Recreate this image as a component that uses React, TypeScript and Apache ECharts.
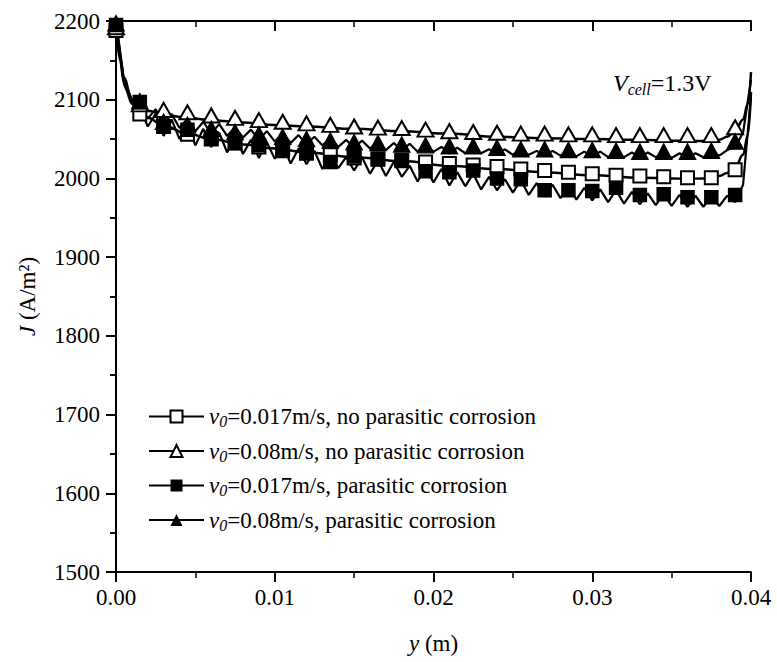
import { useEffect, useRef } from "react";
import * as echarts from "echarts";

// Current density J (A/m²) along the channel height y (m) at V_cell = 1.3 V.

const FONT = "Liberation Serif";

const xTickMin = 0;
const xTickMax = 0.04;
const xTickStep = 0.01;
const yTickMin = 1500;
const yTickMax = 2200;
const yTickStep = 100;

// Smooth model curves (no parasitic corrosion)
const smoothX = [
  0, 0.00025, 0.0005, 0.001, 0.0015, 0.002, 0.003, 0.0045, 0.006, 0.008, 0.01, 0.012, 0.015,
  0.018, 0.021, 0.024, 0.027, 0.03, 0.033, 0.035, 0.036, 0.037, 0.038, 0.0385, 0.039, 0.0395,
  0.0398, 0.04,
];
const lineSlowNoCorrosion = [
  2200, 2150, 2122, 2095, 2083, 2077, 2067, 2057, 2050, 2043, 2038, 2033, 2027, 2022, 2016,
  2012, 2008, 2004, 2001, 2000, 1999.5, 2000, 2003, 2007, 2014, 2030, 2055, 2110,
];
const lineFastNoCorrosion = [
  2200, 2155, 2128, 2100, 2090, 2086, 2081, 2077, 2074, 2071, 2068, 2066, 2063, 2060, 2057,
  2053, 2051, 2050, 2049, 2048, 2047.5, 2047.5, 2049, 2053, 2060, 2075, 2095, 2135,
];

// Noisy curves (parasitic corrosion), sampled every 0.0005 m
const noisyStep = 0.0005;
const lineSlowCorrosion = [
  2200, 2120, 2096, 2090, 2066, 2082, 2054, 2075, 2050, 2068, 2042, 2063, 2040, 2058, 2033,
  2055, 2031, 2049, 2026, 2046, 2025, 2043, 2019, 2038, 2018, 2035, 2012, 2030, 2013, 2027,
  2010, 2027, 2006, 2023, 2003, 2021, 2002, 2016, 1996, 2014, 1995, 2012, 1991, 2008, 1990,
  2006, 1986, 2002, 1985, 1999, 1982, 1998, 1979, 1994, 1977, 1992, 1975, 1990, 1973, 1988,
  1972, 1986, 1970, 1985, 1968, 1983, 1967, 1981, 1966, 1980, 1965, 1979, 1964, 1978, 1964,
  1977, 1965, 1978, 1970, 1992, 2105,
];
const lineFastCorrosion = [
  2200, 2125, 2100, 2092, 2076, 2088, 2068, 2082, 2064, 2076, 2060, 2072, 2057, 2069, 2054,
  2065, 2052, 2062, 2049, 2060, 2047, 2057, 2045, 2055, 2043, 2053, 2042, 2051, 2040, 2049,
  2039, 2048, 2038, 2046, 2036, 2045, 2035, 2044, 2034, 2042, 2034, 2040, 2033, 2039, 2032,
  2038, 2032, 2037, 2031, 2037, 2030, 2036, 2030, 2035, 2029, 2035, 2029, 2034, 2028, 2034,
  2028, 2034, 2027, 2033, 2027, 2033, 2027, 2033, 2027, 2032, 2026, 2032, 2026, 2032, 2027,
  2033, 2029, 2036, 2040, 2058, 2125,
];

// Symbol positions, every 0.0015 m
const markerStep = 0.0015;
const openSquares = [
  2188, 2082, 2066, 2056, 2050, 2045, 2040, 2037, 2032, 2030, 2026, 2025, 2023, 2021, 2019,
  2017, 2015, 2012, 2010, 2008, 2006, 2004, 2003, 2002, 2001, 2001, 2011,
];
const openTriangles = [
  2192, 2094, 2087, 2084, 2080, 2077, 2074, 2072, 2070, 2068, 2066, 2064.5, 2064, 2062, 2060,
  2059, 2058, 2057, 2057, 2056, 2056, 2055, 2055, 2055, 2055, 2055, 2065,
];
const filledSquares = [
  2195, 2097, 2066, 2062, 2051, 2045, 2042, 2035, 2034, 2021, 2028, 2024, 2022, 2009, 2008,
  2010, 2000, 1999, 1985, 1985, 1984, 1988, 1979, 1980, 1976, 1976, 1979,
];
const filledTriangles = [
  2197, 2098, 2072, 2068, 2063, 2059, 2056, 2053, 2050, 2048, 2046, 2045, 2043, 2042, 2041,
  2041, 2039, 2037, 2037, 2036, 2036, 2035, 2034, 2034, 2034, 2035, 2047,
];

const seriesNames = [
  "v0=0.017m/s, no parasitic corrosion",
  "v0=0.08m/s, no parasitic corrosion",
  "v0=0.017m/s, parasitic corrosion",
  "v0=0.08m/s, parasitic corrosion",
];

const zipX = (xs: number[], ys: number[]) => ys.map((v, i) => [xs[i], v]);
const stepX = (step: number, ys: number[]) => ys.map((v, i) => [+(i * step).toFixed(5), v]);

export default function App() {
  const ref = useRef<HTMLDivElement>(null);

  useEffect(() => {
    if (!ref.current) return;
    const chart = echarts.init(ref.current, undefined, { renderer: "svg" });

    const axisLine = { show: true, lineStyle: { color: "#000", width: 2 } };
    const lineSeries = (name: string, symbol: string, data: number[][], smooth: boolean, width: number) => ({
      name,
      type: "line",
      data,
      symbol,
      showSymbol: false,
      smooth: smooth ? 0.4 : false,
      smoothMonotone: smooth ? "x" : undefined,
      lineStyle: { color: "#000", width },
      itemStyle: { color: "#000", borderColor: "#000", opacity: 1 },
      emphasis: { disabled: true },
      z: 2,
    });
    const markerSeries = (symbol: string, data: number[][], size: number | number[]) => ({
      name: "_" + symbol,
      type: "scatter",
      data,
      symbol,
      symbolSize: size,
      itemStyle: { color: "#000", borderColor: "#000", borderWidth: 1.5, opacity: 1 },
      emphasis: { disabled: true },
      z: 3,
    });

    const tickLabel = { color: "#000", fontFamily: FONT, fontSize: 23 };
    const nameRich = {
      i: { fontFamily: FONT, fontSize: 23, fontStyle: "italic", color: "#000" },
      t: { fontFamily: FONT, fontSize: 23, color: "#000" },
    };

    chart.setOption({
      animation: false,
      backgroundColor: "#fff",
      textStyle: { fontFamily: FONT, color: "#000" },
      grid: { left: 116, right: 26, top: 21, bottom: 90 },
      xAxis: [
        {
          type: "value",
          position: "bottom",
          min: xTickMin,
          max: xTickMax,
          interval: xTickStep,
          axisLine,
          axisTick: { show: true, inside: false, length: 10, lineStyle: { color: "#000", width: 2 } },
          minorTick: { show: true, splitNumber: 2, length: 6, lineStyle: { color: "#000", width: 1.5 } },
          splitLine: { show: false },
          axisLabel: { ...tickLabel, margin: 14, formatter: (v: number) => v.toFixed(2) },
          name: "{i|y}{t| (m)}",
          nameLocation: "middle",
          nameGap: 60,
          nameTextStyle: { fontFamily: FONT, rich: nameRich },
        },
        {
          type: "value",
          position: "top",
          min: xTickMin,
          max: xTickMax,
          interval: xTickStep,
          axisLine,
          axisTick: { show: true, inside: true, length: 10, lineStyle: { color: "#000", width: 2 } },
          minorTick: { show: true, splitNumber: 2, length: 6, lineStyle: { color: "#000", width: 1.5 } },
          splitLine: { show: false },
          axisLabel: { show: false },
        },
      ],
      yAxis: [
        {
          type: "value",
          position: "left",
          min: yTickMin,
          max: yTickMax,
          interval: yTickStep,
          axisLine,
          axisTick: { show: true, inside: false, length: 10, lineStyle: { color: "#000", width: 2 } },
          minorTick: { show: true, splitNumber: 2, length: 6, lineStyle: { color: "#000", width: 1.5 } },
          splitLine: { show: false },
          axisLabel: { ...tickLabel, margin: 16, formatter: (v: number) => String(v) },
          name: "{i|J}{t| (A/m²)}",
          nameLocation: "middle",
          nameRotate: 90,
          nameGap: 77,
          nameTextStyle: { fontFamily: FONT, rich: nameRich },
        },
        {
          type: "value",
          position: "right",
          min: yTickMin,
          max: yTickMax,
          interval: yTickStep,
          axisLine,
          axisTick: { show: true, inside: true, length: 10, lineStyle: { color: "#000", width: 2 } },
          minorTick: { show: true, splitNumber: 2, length: 6, lineStyle: { color: "#000", width: 1.5 } },
          splitLine: { show: false },
          axisLabel: { show: false },
        },
      ],
      legend: {
        data: seriesNames,
        orient: "vertical",
        left: 143,
        top: 400,
        itemWidth: 55,
        itemHeight: 15,
        itemGap: 10,
        selectedMode: false,
        formatter: (name: string) => `{i|v}{s|0}{t|${name.slice(2)}}`,
        textStyle: {
          fontFamily: FONT,
          rich: {
            i: { fontFamily: FONT, fontSize: 23, fontStyle: "italic", lineHeight: 26, color: "#000" },
            s: { fontFamily: FONT, fontSize: 16, fontStyle: "italic", lineHeight: 12, verticalAlign: "bottom", color: "#000" },
            t: { fontFamily: FONT, fontSize: 23, lineHeight: 26, color: "#000" },
          },
        },
      },
      graphic: [
        {
          type: "text",
          left: 613,
          top: 71,
          style: {
            text: "{v|V}{s|cell}{t|=1.3V}",
            rich: {
              v: { fontFamily: FONT, fontSize: 24, fontStyle: "italic", lineHeight: 28, fill: "#000" },
              s: { fontFamily: FONT, fontSize: 16, fontStyle: "italic", lineHeight: 12, verticalAlign: "bottom", fill: "#000" },
              t: { fontFamily: FONT, fontSize: 24, lineHeight: 28, fill: "#000" },
            },
          },
        },
      ],
      series: [
        lineSeries(seriesNames[0], "emptyRect", zipX(smoothX, lineSlowNoCorrosion), true, 2.5),
        markerSeries("emptyRect", stepX(markerStep, openSquares), 13),
        lineSeries(seriesNames[1], "emptyTriangle", zipX(smoothX, lineFastNoCorrosion), true, 2.5),
        markerSeries("emptyTriangle", stepX(markerStep, openTriangles), [16, 14]),
        lineSeries(seriesNames[2], "rect", stepX(noisyStep, lineSlowCorrosion), false, 2.2),
        markerSeries("rect", stepX(markerStep, filledSquares), 13),
        lineSeries(seriesNames[3], "triangle", stepX(noisyStep, lineFastCorrosion), false, 2.2),
        markerSeries("triangle", stepX(markerStep, filledTriangles), [16, 15]),
      ],
    });

    return () => chart.dispose();
  }, []);

  return (
    <div
      ref={ref}
      style={{ position: "absolute", left: 0, top: 0, width: 777, height: 662, background: "#fff" }}
    />
  );
}
